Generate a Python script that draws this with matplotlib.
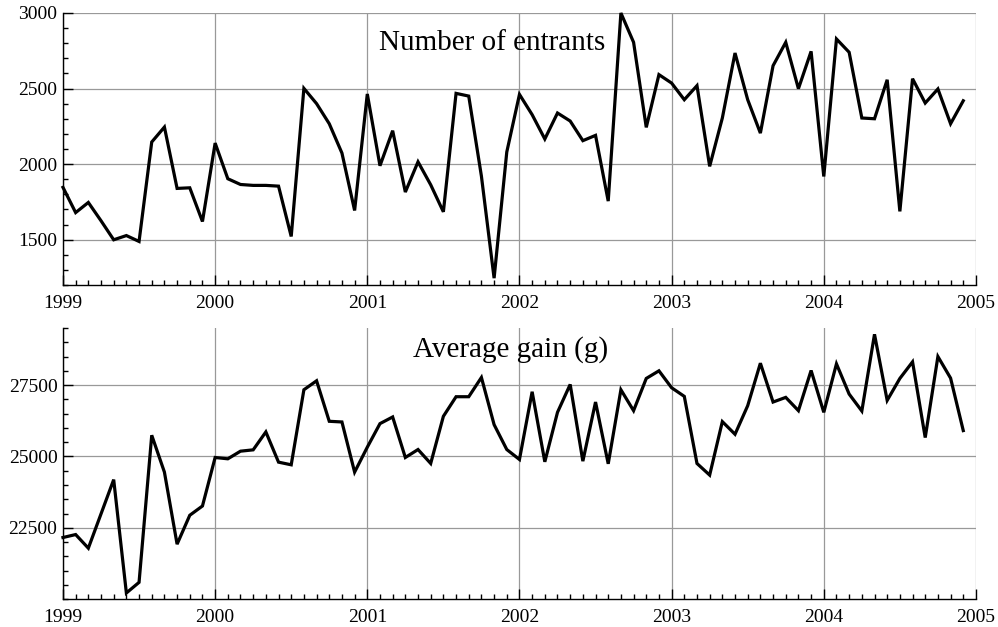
import numpy as np
import matplotlib
matplotlib.use('Agg')
import matplotlib.pyplot as plt
from matplotlib.ticker import MultipleLocator

plt.rcParams['font.family'] = ['Liberation Serif', 'DejaVu Serif']

# monthly data, Jan 1999 .. Dec 2004
entrants = [1846, 1679, 1746, 1625, 1499, 1527, 1488, 2146, 2245, 1839, 1843, 1620,
            2139, 1903, 1865, 1859, 1859, 1854, 1521, 2501, 2400, 2267, 2073, 1693,
            2464, 1989, 2221, 1815, 2015, 1863, 1684, 2468, 2450, 1920, 1245, 2080,
            2461, 2327, 2166, 2338, 2285, 2155, 2190, 1755, 3000, 2806, 2243, 2592,
            2536, 2426, 2519, 1985, 2305, 2735, 2426, 2205, 2651, 2806, 2499, 2746,
            1918, 2828, 2740, 2305, 2300, 2558, 1687, 2565, 2404, 2497, 2267, 2419]

gain = [22163, 22267, 21790, 22990, 24190, 20221, 20593, 25744, 24453, 21930, 22942, 23267,
        24965, 24919, 25186, 25233, 25860, 24802, 24709, 27337, 27651, 26233, 26209, 24453,
        25326, 26151, 26384, 24965, 25244, 24756, 26407, 27093, 27093, 27767, 26116, 25244,
        24895, 27267, 24814, 26547, 27523, 24837, 26907, 24744, 27337, 26605, 27733, 28000,
        27407, 27105, 24756, 24349, 26221, 25779, 26779, 28267, 26907, 27070, 26605, 28012,
        26547, 28244, 27186, 26593, 29279, 26965, 27733, 28314, 25663, 28500, 27744, 25907]

months = 1999 + np.arange(len(entrants)) / 12.0
years = [1999, 2000, 2001, 2002, 2003, 2004, 2005]

fig = plt.figure(figsize=(9.98, 6.27), dpi=100)
ax1 = fig.add_axes([0.0631, 0.5455, 0.9148, 0.4338])
ax2 = fig.add_axes([0.0631, 0.0442, 0.9148, 0.4327])


def style(ax, ylim, major, minor):
    ax.set_xlim(1999, 2005)
    ax.set_ylim(*ylim)
    ax.set_xticks(years)
    ax.xaxis.set_minor_locator(MultipleLocator(1 / 12))
    ax.yaxis.set_major_locator(MultipleLocator(major))
    ax.yaxis.set_minor_locator(MultipleLocator(minor))
    ax.spines['top'].set_visible(False)
    ax.spines['right'].set_visible(False)
    for s in ('left', 'bottom'):
        ax.spines[s].set_linewidth(1.0)
    ax.grid(True, which='major', color='#999999', lw=0.9)
    ax.set_axisbelow(True)
    ax.tick_params(which='major', direction='in', length=7, width=1, labelsize=14)
    ax.tick_params(which='minor', direction='in', length=3.5, width=1)
    ax.tick_params(axis='x', which='major', pad=7)
    ax.tick_params(axis='y', which='major', pad=4)


ax1.plot(months, entrants, color='black', lw=2.3, solid_joinstyle='miter')
style(ax1, (1200, 3000), 500, 100)
ax1.text(0.47, 0.864, 'Number of entrants', transform=ax1.transAxes,
         ha='center', va='baseline', fontsize=21)

ax2.plot(months, gain, color='black', lw=2.3, solid_joinstyle='miter')
style(ax2, (20000, 29500), 2500, 500)
ax2.set_yticks([22500, 25000, 27500])
ax2.text(0.49, 0.893, 'Average gain (g)', transform=ax2.transAxes,
         ha='center', va='baseline', fontsize=21)

for ax in (ax1, ax2):
    for line in ax.get_lines():
        line.set_clip_on(False)

fig.savefig('out.png', dpi=100)
